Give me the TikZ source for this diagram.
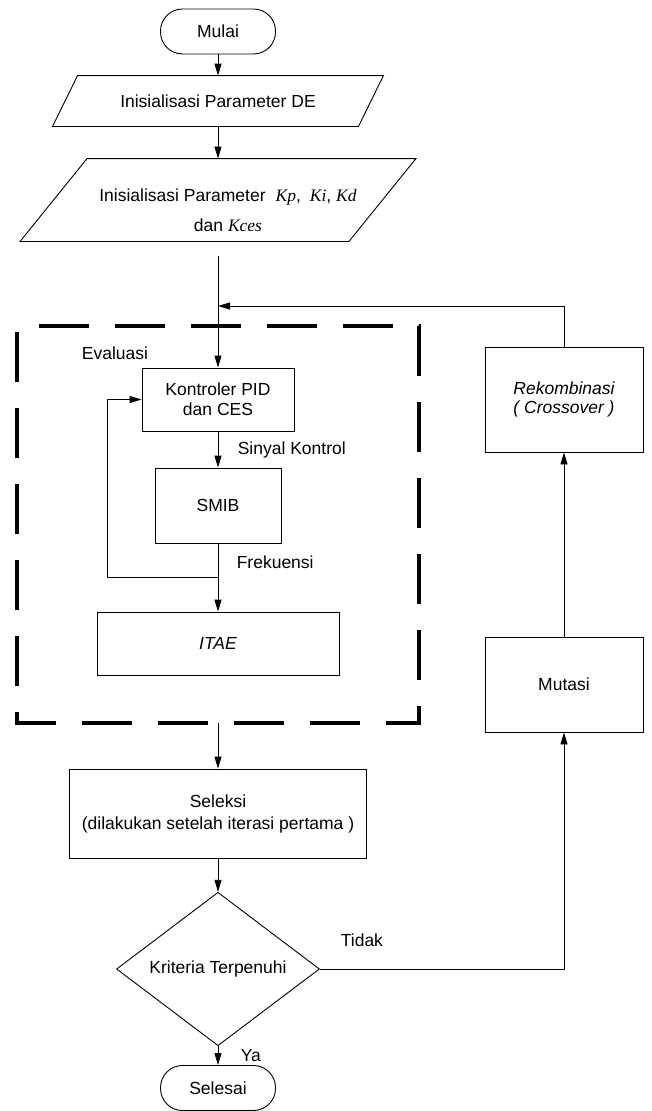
\documentclass[tikz,border=0pt]{standalone}
\usepackage{fontspec}
\setmainfont{Liberation Sans}
\newfontfamily\serifit{Liberation Serif}
\usetikzlibrary{shapes.geometric,arrows.meta,positioning}
\newcommand{\kvar}[1]{{\serifit\itshape #1}}

\begin{document}
\begin{tikzpicture}[x=1pt,y=-1pt,>={Triangle[length=12pt,width=7pt]},line width=0.9pt,
    every node/.style={font=\fontsize{17.5}{20}\selectfont},
    proses/.style={draw,rectangle,inner sep=0pt,align=center},
    terminal/.style={draw,rectangle,rounded corners=22pt,minimum width=115,minimum height=45,inner sep=0pt},
    dataio/.style={rectangle,inner sep=0pt,align=center},
    putusan/.style={draw,diamond,inner sep=0pt,minimum width=203,minimum height=120},
    evalbox/.style={line width=3.5pt,dash pattern=on 50pt off 26pt,dash phase=54pt}]
    \useasboundingbox (0,0) rectangle (651,1111);
    % jalur utama
    \node[terminal] (mulai) at (218,31.5) {Mulai};
    \node[dataio,minimum width=305,minimum height=50] (inisDE) at (218,101) {Inisialisasi Parameter DE};
    \draw ([xshift=12.5pt]inisDE.north west) -- ([xshift=12.5pt]inisDE.north east)
        -- ([xshift=-12.5pt]inisDE.south east) -- ([xshift=-12.5pt]inisDE.south west) -- cycle;
    \node[dataio,minimum width=328,minimum height=82] (inisK) at (218,200) {};
    \draw ([xshift=33.5pt]inisK.north west) -- ([xshift=33.5pt]inisK.north east)
        -- ([xshift=-33.5pt]inisK.south east) -- ([xshift=-33.5pt]inisK.south west) -- cycle;
    \node[align=center,font=\fontsize{17.5}{30}\selectfont] (inisKtext) at (228,210)
        {Inisialisasi Parameter\hspace{10pt}\kvar{Kp},\hspace{9pt}\kvar{Ki}, \kvar{Kd}\\dan \kvar{Kces}};
    \node[proses,minimum width=152,minimum height=63] (pid) at (218,399.5) {Kontroler PID\\dan CES};
    \node[proses,minimum width=126,minimum height=75] (smib) at (218,505.5) {SMIB};
    \node[proses,minimum width=242,minimum height=63] (itae) at (218,643.5) {\itshape ITAE};
    \node[proses,minimum width=297,minimum height=89,font=\fontsize{17.5}{22}\selectfont]
        (seleksi) at (218,813.5) {Seleksi\\(dilakukan setelah iterasi pertama )};
    \node[putusan] (kriteria) at (218,969) {Kriteria Terpenuhi};
    \node[terminal] (selesai) at (218,1088) {Selesai};
    % jalur kanan
    \node[proses,minimum width=158,minimum height=105,font=\fontsize{17.5}{19}\selectfont\itshape]
        (rekomb) at (564,399.5) {Rekombinasi\\( Crossover )};
    \node[proses,minimum width=158,minimum height=95] (mutasi) at (564,684.5) {Mutasi};
    % blok evaluasi
    \draw[evalbox] (17,326) -- (419,326) -- (419,723) -- (17,723) -- cycle;
    \node (evaluasi) at (115,353) {Evaluasi};
    \coordinate (masuk) at (218,256);
    \coordinate (gabung) at (218,306);
    \coordinate (cabang) at (218,577);
    \coordinate (keluar) at (218,723);
    % panah
    \draw[->] (mulai) -- (inisDE);
    \draw[->] (inisDE) -- (inisK);
    \draw[->] (masuk) -- (pid);
    \draw[->] (pid) -- node[anchor=west,xshift=16pt] {Sinyal Kontrol} (smib);
    \draw[->] (smib) -- node[pos=0.28,anchor=west,xshift=15pt] {Frekuensi} (itae);
    \draw[->] (cabang) -- ++(-111,0) |- (pid.west);
    \draw[->] (keluar) -- (seleksi);
    \draw[->] (seleksi) -- (kriteria);
    \draw[->] (kriteria) -- node[anchor=west,xshift=19pt] {Ya} (selesai);
    \draw[->] (kriteria.east) -| node[pos=0.086,above=19pt] {Tidak} (mutasi.south);
    \draw[->] (mutasi) -- (rekomb);
    \draw[->] (rekomb.north) |- (gabung);
\end{tikzpicture}
\end{document}
